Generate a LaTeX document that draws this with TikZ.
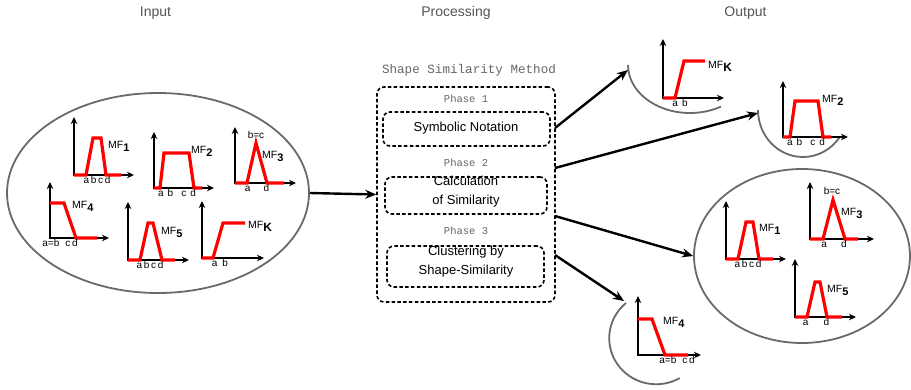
\documentclass[tikz,border=0pt]{standalone}
\usepackage{fontspec}
\setmainfont{Liberation Sans}
\setmonofont{Liberation Mono}
\usetikzlibrary{arrows.meta,shapes.geometric}
\definecolor{titlegray}{HTML}{555555}
\definecolor{monogray}{HTML}{666666}
\definecolor{ellgray}{HTML}{6A6A6A}
\newcommand\mfl[2]{MF\raisebox{-3pt}{\fontsize{#2}{#2}\selectfont\bfseries #1}}
\begin{document}
\begin{tikzpicture}[x=1pt,y=-1pt,
  title/.style={text=titlegray,font=\fontsize{14}{16}\selectfont},
  monotxt/.style={text=monogray,font=\ttfamily\fontsize{10.5}{12}\selectfont},
  axes/.style={line width=1.8pt,{Stealth[length=7pt,width=6.5pt]}-{Stealth[length=7pt,width=6.5pt]}},
  mf/.style={draw=red,line width=3.2pt,line join=miter},
  tick/.style={inner sep=0pt,anchor=north,font=\fontsize{10}{10}\selectfont},
  mflab/.style={inner sep=0pt,anchor=west,font=\fontsize{10.5}{11}\selectfont},
  ell/.style={ellipse,draw=ellgray,line width=1.8pt,inner sep=0pt},
  arcline/.style={draw=ellgray,line width=1.8pt},
  dbox/.style={draw,rounded corners=7pt,line width=1.6pt,dash pattern=on 3.5pt off 2.3pt,inner sep=0pt},
  boxtxt/.style={align=center,font=\fontsize{13}{18.5}\selectfont,inner sep=0pt},
  flow/.style={line width=2.4pt,-{Stealth[length=11pt,width=9pt]}}
]
\useasboundingbox (0,0) rectangle (911,389);
\fill[white] (0,0) rectangle (911,389);

% column titles
\node[title] (tin) at (155.5,13) {Input};
\node[title] (tproc) at (456,13) {Processing};
\node[title] (tout) at (745.5,13) {Output};

% ---------------- Input ellipse ----------------
\node[ell,minimum width=302pt,minimum height=200pt] (inell) at (158,193) {};

% MF1
\draw[axes] (74,117) -- (74,175) -- (134,175);
\draw[mf] (74,175) -- (86,175) -- (93,138) -- (101,138) -- (106,175) -- (121,175);
\node[tick] (i1t) at (97,176) {a\,b\,c\,d};
\node[mflab] (i1l) at (108,146) {\mfl{1}{11}};
% MF2
\draw[axes] (154,132) -- (154,188) -- (214,188);
\draw[mf] (154,188) -- (160,188) -- (164,153) -- (189,153) -- (194,188) -- (202,188);
\node[tick] (i2t) at (177,189) {a\hspace{4pt}b\hspace{8pt}c\hspace{4pt}d};
\node[mflab] (i2l) at (191,151) {\mfl{2}{11}};
% MF3
\draw[axes] (235,127) -- (235,183) -- (296,183);
\draw[mf] (235,183) -- (247,183) -- (256,143) -- (267,183) -- (284,183);
\node[tick] (i3t) at (257,184) {a\hspace{13pt}d};
\node[inner sep=0pt,font=\fontsize{10}{10}\selectfont] (i3b) at (256,135) {b=c};
\node[mflab] (i3l) at (262,156) {\mfl{3}{11}};
% MF4
\draw[axes] (50,182) -- (50,238) -- (109,238);
\draw[mf] (50,203) -- (64,203) -- (76,238) -- (97,238);
\node[tick] (i4t) at (60,239) {a=b\hspace{6pt}c\,d};
\node[mflab] (i4l) at (72,206) {\mfl{4}{11}};
% MF5
\draw[axes] (128,202) -- (128,260) -- (189,260);
\draw[mf] (128,260) -- (140,260) -- (148,223) -- (153,223) -- (162,260) -- (175,260);
\node[tick] (i5t) at (150,261) {a\,b\,c\,d};
\node[mflab] (i5l) at (161,232) {\mfl{5}{11}};
% MFK
\draw[axes] (202,201) -- (202,258) -- (264,258);
\draw[mf] (202,258) -- (213,258) -- (223,223) -- (245,223);
\node[tick] (ikt) at (220,259) {a\hspace{5pt}b};
\node[mflab] (ikl) at (248,226) {\mfl{K}{12}};

% ---------------- Processing ----------------
\node[monotxt,font=\ttfamily\fontsize{12.6}{14}\selectfont] (ptitle) at (469,70) {Shape Similarity Method};
\node[dbox,minimum width=178pt,minimum height=215pt] (proc) at (466,194.5) {};
\node[monotxt] (ph1) at (466,99) {Phase 1};
\node[dbox,minimum width=167pt,minimum height=34pt] (p1) at (466.5,129) {};
\node[boxtxt] (p1t) at (466,128) {Symbolic Notation};
\node[monotxt] (ph2) at (466,163) {Phase 2};
\node[dbox,minimum width=162pt,minimum height=37pt] (p2) at (466,195.5) {};
\node[boxtxt] (p2t) at (466,191.5) {Calculation\\of Similarity};
\node[monotxt] (ph3) at (466,231) {Phase 3};
\node[dbox,minimum width=157pt,minimum height=41pt] (p3) at (465.5,266.5) {};
\node[boxtxt] (p3t) at (466,261.5) {Clustering by\\Shape-Similarity};

\draw[flow] (inell.east) -- (proc.west);

% ---------------- Output ----------------
% MFK cluster
\draw[arcline] (628,65) arc[start angle=180,end angle=60,x radius=62,y radius=48];
\coordinate (t1) at (628,70);
\draw[axes] (663,39) -- (663,98) -- (724,98);
\draw[mf] (663,98) -- (675,98) -- (684,61) -- (705,61);
\node[tick] (okt) at (680,99) {a\hspace{4pt}b};
\node[mflab] (okl) at (708,66) {\mfl{K}{12}};

% MF2 cluster
\draw[arcline] (758,110) arc[start angle=180,end angle=35,x radius=45,y radius=47];
\coordinate (t2) at (758,113);
\draw[axes] (783,81) -- (783,137) -- (848,137);
\draw[mf] (783,137) -- (790,137) -- (795,101) -- (818,101) -- (823,137) -- (831,137);
\node[tick] (o2t) at (806,138) {a\hspace{4pt}b\hspace{8pt}c\hspace{4pt}d};
\node[mflab] (o2l) at (822,100) {\mfl{2}{11}};

% MF1, MF3, MF5 cluster
\node[ell,minimum width=216pt,minimum height=174pt] (oell) at (802,256) {};
\draw[axes] (726,201) -- (726,259) -- (786,259);
\draw[mf] (726,259) -- (738,259) -- (746,222) -- (753,222) -- (759,259) -- (773,259);
\node[tick] (o1t) at (748,260) {a\,b\,c\,d};
\node[mflab] (o1l) at (759,229) {\mfl{1}{11}};
\draw[axes] (810,182) -- (810,239) -- (874,239);
\draw[mf] (810,239) -- (823,239) -- (833,200) -- (845,239) -- (858,239);
\node[tick] (o3t) at (834,240) {a\hspace{14pt}d};
\node[inner sep=0pt,font=\fontsize{10}{10}\selectfont] (o3b) at (832,191) {b=c};
\node[mflab] (o3l) at (841,213) {\mfl{3}{11}};
\draw[axes] (795,259) -- (795,317) -- (856,317);
\draw[mf] (795,317) -- (807,317) -- (815,282) -- (820,282) -- (827,317) -- (842,317);
\node[tick] (o5t) at (816,318) {a\hspace{15pt}d};
\node[mflab] (o5l) at (827,290) {\mfl{5}{11}};

% MF4 cluster
\draw[arcline] (626,303) arc[start angle=230,end angle=60,x radius=47,y radius=46];
\coordinate (t4) at (624,301);
\draw[axes] (638,296) -- (638,355) -- (701,355);
\draw[mf] (638,319) -- (652,319) -- (665,355) -- (688,355);
\node[tick] (o4t) at (677,356) {a=b\hspace{6pt}c\,d};
\node[mflab] (o4l) at (663,322) {\mfl{4}{11}};

% output connectors
\coordinate (s1) at (555,128);
\coordinate (s2) at (555,168);
\coordinate (s3) at (555,216);
\coordinate (s4) at (555,255);
\coordinate (t3) at (oell.west);
\draw[flow] (s1) -- (t1);
\draw[flow] (s2) -- (t2);
\draw[flow] (s3) -- (t3);
\draw[flow] (s4) -- (t4);
\end{tikzpicture}
\end{document}
